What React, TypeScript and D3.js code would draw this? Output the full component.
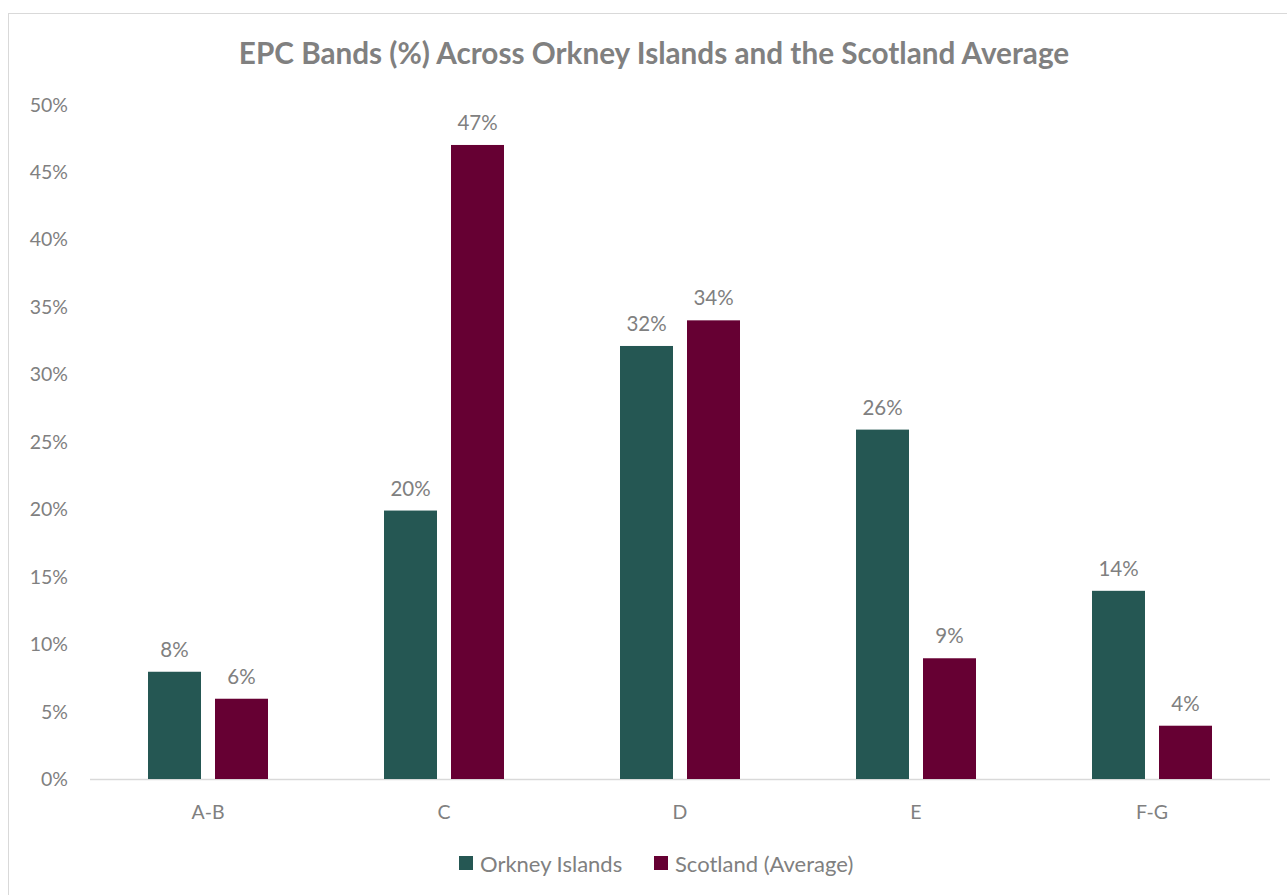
import React from "react";
import * as d3 from "d3";

const categories = ["A-B", "C", "D", "E", "F-G"];
const seriesNames = ["Orkney Islands", "Scotland (Average)"];
const orkney = [7.95, 19.9, 32.1, 25.9, 13.95];
const scotland = [5.95, 47, 34, 8.95, 3.95];
const yTicks = [0, 5, 10, 15, 20, 25, 30, 35, 40, 45, 50];
const colors = ["#255753", "#660033"];

const W = 1287, H = 895;
const FONT = "Lato, 'Open Sans', sans-serif";
const GRAY = "#808080";

export default function App() {
  const x0 = d3.scaleBand().domain(categories).range([90, 1270]).paddingInner(0).paddingOuter(0);
  const y = d3.scaleLinear().domain([0, 50]).range([779, 104.5]);
  const barW = 53, gap = 14;
  const series = [orkney, scotland];
  return (
    <svg width={W} height={H} style={{ position: "absolute", left: 0, top: 0, background: "#fff" }} fontFamily={FONT}>
      <rect x={8.5} y={13.5} width={1300} height={900} fill="#fff" stroke="#d9d9d9" strokeWidth={1} />
      <text x={654} y={64} textAnchor="middle" fontSize={29.7} fontWeight="bold" fill={GRAY}>
        EPC Bands (%) Across Orkney Islands and the Scotland Average
      </text>
      {yTicks.map((t) => (
        <text key={t} x={68} y={y(t) + 7} textAnchor="end" fontSize={19.5} fill={GRAY}>
          {t}%
        </text>
      ))}
      <line x1={90} x2={1270} y1={779.5} y2={779.5} stroke="#d9d9d9" strokeWidth={1.5} />
      {categories.map((c, i) => {
        const cx = (x0(c) as number) + x0.bandwidth() / 2;
        return (
          <g key={c}>
            {series.map((s, j) => {
              const bx = cx - barW - gap / 2 + j * (barW + gap);
              const v = s[i];
              return (
                <g key={j}>
                  <rect x={bx} y={y(v)} width={barW} height={y(0) - y(v)} fill={colors[j]} />
                  <text x={bx + barW / 2} y={y(v) - 15} textAnchor="middle" fontSize={20.5} fill={GRAY}>
                    {Math.round(v)}%
                  </text>
                </g>
              );
            })}
            <text x={cx} y={819} textAnchor="middle" fontSize={19.5} fill={GRAY}>
              {c}
            </text>
          </g>
        );
      })}
      {seriesNames.map((n, j) => {
        const lx = j === 0 ? 459 : 654;
        return (
          <g key={n}>
            <rect x={lx} y={856} width={14} height={14} fill={colors[j]} />
            <text x={lx + 21} y={872} fontSize={22} fill={GRAY}>
              {n}
            </text>
          </g>
        );
      })}
    </svg>
  );
}
